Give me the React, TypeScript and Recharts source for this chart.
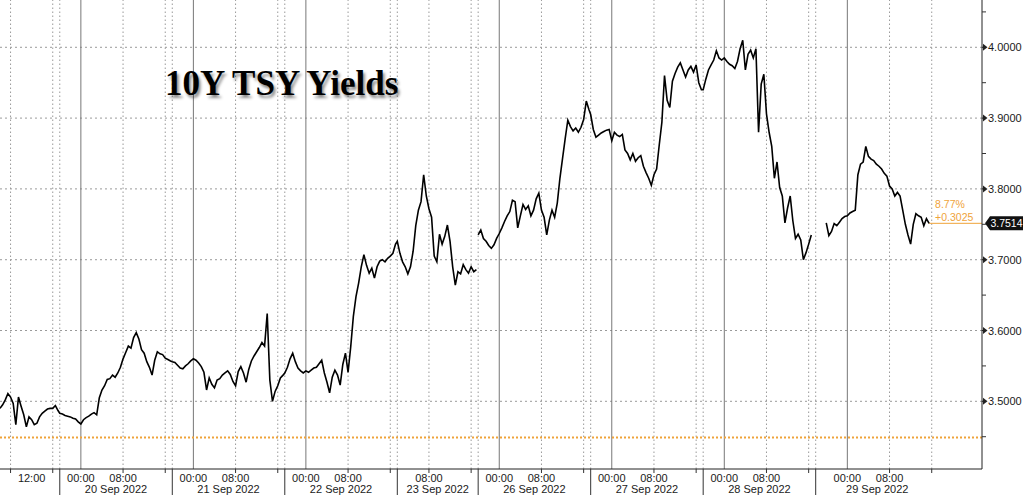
import React from 'react';
import { LineChart, Line, XAxis, YAxis, ReferenceLine } from 'recharts';

// trading sessions (clock hours relative to the session's calendar day; negative = previous evening)
const sessionDates = ['', '20 Sep 2022', '21 Sep 2022', '22 Sep 2022', '23 Sep 2022', '26 Sep 2022', '27 Sep 2022', '28 Sep 2022', '29 Sep 2022'];
const sessionOpen = [6, -4, -4, -4, 2, -4, -4, -4, -6];
const dataOpen = [6, -4, -4, -4, 2, -4, -4, -4, -4];
const gapBefore = [false, false, false, false, false, true, false, false, true];
const timeLabels = [['12:00'], ['00:00', '08:00'], ['00:00', '08:00'], ['00:00', '08:00'], ['08:00'], ['00:00', '08:00'], ['00:00', '08:00'], ['00:00', '08:00'], ['00:00', '08:00']];
const SESSION_CLOSE = 17 + 1 / 3;
const X_MAX = 186.2;

// 10Y yield, 30-minute samples from each session's first print
const sep19 = [3.490, 3.495, 3.502, 3.511, 3.506, 3.497, 3.467, 3.506, 3.493, 3.481, 3.464, 3.478, 3.474, 3.467, 3.469, 3.478, 3.483, 3.486, 3.489, 3.490, 3.490, 3.494, 3.487];
const sep20 = [3.483, 3.482, 3.480, 3.479, 3.478, 3.476, 3.475, 3.471, 3.468, 3.474, 3.477, 3.479, 3.482, 3.484, 3.481, 3.505, 3.516, 3.522, 3.531, 3.532, 3.537, 3.534, 3.540, 3.548, 3.560, 3.569, 3.578, 3.575, 3.590, 3.597, 3.588, 3.573, 3.568, 3.556, 3.548, 3.537, 3.558, 3.570, 3.567, 3.566, 3.561, 3.559, 3.557];
const sep21 = [3.556, 3.555, 3.551, 3.547, 3.546, 3.550, 3.553, 3.557, 3.560, 3.558, 3.554, 3.549, 3.541, 3.516, 3.533, 3.524, 3.519, 3.530, 3.532, 3.537, 3.540, 3.543, 3.538, 3.528, 3.522, 3.542, 3.549, 3.540, 3.527, 3.545, 3.557, 3.564, 3.570, 3.576, 3.583, 3.578, 3.624, 3.530, 3.500, 3.514, 3.522, 3.533, 3.537];
const sep22 = [3.540, 3.548, 3.560, 3.568, 3.556, 3.547, 3.543, 3.540, 3.543, 3.541, 3.544, 3.547, 3.548, 3.553, 3.558, 3.540, 3.527, 3.512, 3.534, 3.544, 3.537, 3.523, 3.552, 3.568, 3.541, 3.577, 3.620, 3.648, 3.667, 3.690, 3.707, 3.692, 3.681, 3.688, 3.674, 3.690, 3.698, 3.700, 3.697, 3.702, 3.705, 3.709, 3.722];
const sep23 = [3.726, 3.709, 3.697, 3.690, 3.680, 3.690, 3.712, 3.748, 3.770, 3.782, 3.820, 3.790, 3.772, 3.760, 3.705, 3.697, 3.736, 3.722, 3.733, 3.749, 3.726, 3.690, 3.664, 3.683, 3.680, 3.693, 3.686, 3.681, 3.690, 3.683, 3.686];
const sep26 = [3.735, 3.742, 3.730, 3.726, 3.720, 3.716, 3.721, 3.730, 3.737, 3.745, 3.754, 3.762, 3.768, 3.784, 3.782, 3.745, 3.762, 3.778, 3.771, 3.776, 3.762, 3.770, 3.786, 3.794, 3.770, 3.760, 3.735, 3.756, 3.770, 3.760, 3.780, 3.815, 3.843, 3.871, 3.897, 3.888, 3.882, 3.886, 3.880, 3.887, 3.898, 3.924, 3.912];
const sep27 = [3.905, 3.884, 3.873, 3.876, 3.879, 3.881, 3.883, 3.884, 3.868, 3.880, 3.876, 3.874, 3.877, 3.855, 3.850, 3.841, 3.850, 3.839, 3.844, 3.847, 3.832, 3.823, 3.815, 3.805, 3.820, 3.828, 3.862, 3.894, 3.960, 3.925, 3.915, 3.952, 3.963, 3.972, 3.978, 3.968, 3.958, 3.968, 3.973, 3.965, 3.975, 3.950, 3.940];
const sep28 = [3.940, 3.955, 3.968, 3.975, 3.982, 3.995, 3.985, 3.982, 3.985, 3.980, 3.976, 3.974, 3.970, 3.980, 3.998, 4.010, 3.968, 3.990, 3.996, 3.985, 3.998, 3.880, 3.948, 3.962, 3.906, 3.880, 3.860, 3.815, 3.838, 3.802, 3.790, 3.752, 3.773, 3.790, 3.755, 3.730, 3.736, 3.728, 3.700, 3.710, 3.722, 3.735];
const sep29 = [3.752, 3.734, 3.740, 3.751, 3.748, 3.753, 3.758, 3.761, 3.762, 3.766, 3.768, 3.770, 3.820, 3.835, 3.838, 3.860, 3.846, 3.842, 3.840, 3.835, 3.832, 3.828, 3.822, 3.818, 3.804, 3.800, 3.790, 3.795, 3.790, 3.770, 3.750, 3.735, 3.722, 3.750, 3.765, 3.762, 3.760, 3.748, 3.758, 3.7514];
const sessionValues = [sep19, sep20, sep21, sep22, sep23, sep26, sep27, sep28, sep29];

const yTicks = [3.45, 3.5, 3.55, 3.6, 3.65, 3.7, 3.75, 3.8, 3.85, 3.9, 3.95, 4.0, 4.05];
const yGrid = [3.5, 3.6, 3.7, 3.8, 3.9, 4.0];
const prevClose = 3.4489;
const lastValue = 3.7514;
const changePct = '8.77%';
const changeAbs = '+0.3025';

const ORANGE = '#EFA33A';
const GRID = '#9a9a9a';
const FONT = 'Liberation Sans, Arial, sans-serif';

const offsets: number[] = [];
{
  let acc = 0;
  sessionOpen.forEach((o) => {
    offsets.push(acc);
    acc += SESSION_CLOSE - o;
  });
}
const xOf = (i: number, hour: number) => offsets[i] + hour - sessionOpen[i];

const data: { t: number; v: number | null }[] = [];
sessionValues.forEach((vals, i) => {
  if (gapBefore[i]) data.push({ t: offsets[i], v: null });
  vals.forEach((v, k) => data.push({ t: xOf(i, dataOpen[i] + k * 0.5), v }));
});
const lastT = data[data.length - 1].t;

type TickSpec = { time?: string; minor?: boolean; sep?: boolean; date?: string };
const key = (x: number) => Math.round(x * 1000) / 1000;
const tickMap = new Map<number, TickSpec>();
const addTick = (x: number, spec: TickSpec) => {
  const k = key(x);
  tickMap.set(k, { ...(tickMap.get(k) || {}), ...spec });
};

const solidX: number[] = [];
const dottedX: number[] = [];
sessionOpen.forEach((open, i) => {
  if (i > 0) {
    dottedX.push(offsets[i]);
    addTick(offsets[i], { sep: true });
  }
  if (open <= 0) solidX.push(xOf(i, 0));
  [8, 16].forEach((h) => {
    if (h >= open && h <= SESSION_CLOSE) {
      dottedX.push(xOf(i, h));
      addTick(xOf(i, h), { minor: true });
    }
  });
  timeLabels[i].forEach((lbl) => addTick(xOf(i, parseInt(lbl, 10)), { time: lbl }));
  if (sessionDates[i]) addTick(offsets[i] + (SESSION_CLOSE - open) / 2, { date: sessionDates[i] });
});
const xTicks = Array.from(tickMap.keys()).sort((a, b) => a - b);

const XTick = (props: any) => {
  const { x, y, payload } = props;
  const spec = tickMap.get(key(payload.value)) || {};
  return (
    <g>
      {spec.sep && <line x1={x} x2={x} y1={y} y2={y + 26} stroke="#333" />}
      {spec.minor && <line x1={x} x2={x} y1={y} y2={y + 4} stroke="#333" />}
      {spec.time && (
        <text x={x} y={y + 12.5} textAnchor="middle" fontSize={11} fontFamily={FONT} fill="#1a1a1a">
          {spec.time}
        </text>
      )}
      {spec.date && (
        <text x={x} y={y + 24} textAnchor="middle" fontSize={11} fontFamily={FONT} fill="#1a1a1a">
          {spec.date}
        </text>
      )}
    </g>
  );
};

const YTick = (props: any) => {
  const { x, y, payload } = props;
  const v = payload.value as number;
  const major = Math.abs(v * 10 - Math.round(v * 10)) < 1e-6;
  if (!major) return <line x1={x} x2={x + 4} y1={y} y2={y} stroke="#333" />;
  return (
    <g>
      <line x1={x} x2={x + 2} y1={y} y2={y} stroke="#222" />
      <polygon points={`${x + 1},${y - 3.5} ${x + 5.5},${y} ${x + 1},${y + 3.5}`} fill="#222" />
      <text x={x + 6} y={y + 4} fontSize={11} fontFamily={FONT} fill="#1a1a1a">
        {v.toFixed(4)}
      </text>
    </g>
  );
};

const LastTag = (props: any) => {
  const { x, y, width } = props.viewBox;
  const right = x + width;
  return (
    <g>
      <text x={x + 6} y={y - 15} fontSize={10.5} fontFamily={FONT} fill={ORANGE}>
        {changePct}
      </text>
      <text x={x + 6} y={y - 2.5} fontSize={10.5} fontFamily={FONT} fill={ORANGE}>
        {changeAbs}
      </text>
      <path d={`M${right + 3},${y} L${right + 8},${y - 7} H${right + 41} V${y + 7} H${right + 8} Z`} fill="#111" />
      <text x={right + 24.5} y={y + 3.8} textAnchor="middle" fontSize={10.5} fontFamily={FONT} fill="#fff">
        {lastValue.toFixed(4)}
      </text>
    </g>
  );
};

export default function App() {
  return (
    <div style={{ position: 'absolute', left: 0, top: 0, width: 1024, height: 495, background: '#fff' }}>
      <LineChart width={1024} height={495} data={data} margin={{ top: 0, right: 0, bottom: 0, left: 0 }}>
        <XAxis
          dataKey="t"
          type="number"
          domain={[0, X_MAX]}
          allowDataOverflow
          ticks={xTicks}
          interval={0}
          height={26}
          tick={<XTick />}
          tickLine={false}
          tickSize={0}
          tickMargin={0}
          axisLine={{ stroke: '#222' }}
        />
        <YAxis
          orientation="right"
          type="number"
          domain={[3.4044, 4.0668]}
          allowDataOverflow
          ticks={yTicks}
          interval={0}
          width={42}
          tick={<YTick />}
          tickLine={false}
          tickSize={0}
          tickMargin={0}
          axisLine={{ stroke: '#222' }}
        />
        {yGrid.map((v) => (
          <ReferenceLine key={`h${v}`} y={v} stroke={GRID} strokeDasharray="2 3" />
        ))}
        {dottedX.map((x) => (
          <ReferenceLine key={`d${x}`} x={x} stroke={GRID} strokeDasharray="1.5 2.5" />
        ))}
        {solidX.map((x) => (
          <ReferenceLine key={`s${x}`} x={x} stroke="#777" />
        ))}
        <ReferenceLine y={prevClose} stroke={ORANGE} strokeWidth={2} strokeDasharray="2 2" />
        <ReferenceLine
          segment={[
            { x: lastT, y: lastValue },
            { x: X_MAX, y: lastValue },
          ]}
          stroke={ORANGE}
          label={LastTag}
        />
        <Line
          dataKey="v"
          type="linear"
          stroke="#000"
          strokeWidth={1.6}
          dot={false}
          activeDot={false}
          isAnimationActive={false}
        />
      </LineChart>
      <div
        style={{
          position: 'absolute',
          left: 165,
          top: 66,
          fontFamily: 'Liberation Serif, Times New Roman, serif',
          fontWeight: 'bold',
          fontSize: 35,
          lineHeight: '35px',
          color: '#000',
          whiteSpace: 'nowrap',
          textShadow: '2px 3px 3px rgba(0,0,0,0.45)',
        }}
      >
        10Y TSY Yields
      </div>
    </div>
  );
}
